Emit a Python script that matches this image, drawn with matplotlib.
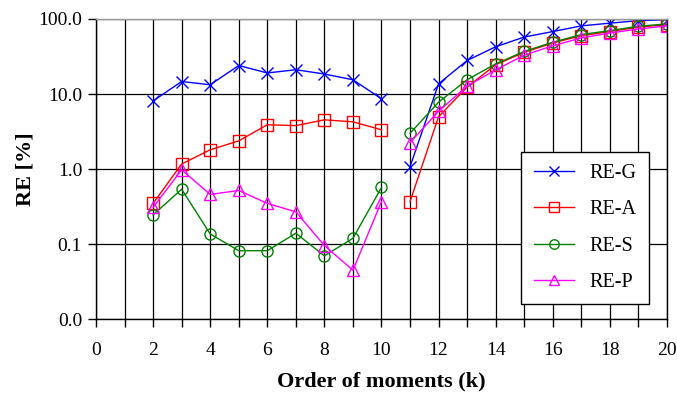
import matplotlib
matplotlib.use("Agg")
import matplotlib.pyplot as plt
from matplotlib.ticker import FixedLocator, FuncFormatter, NullLocator

plt.rcParams["font.family"] = ["Liberation Serif", "DejaVu Serif"]

k = list(range(2, 21))
re_g = [8.1, 14.7, 13.3, 24.0, 19.1, 21.1, 18.5, 15.5, 8.65,
        1.08, 13.7, 28.0, 42.7, 57.5, 68.0, 81.0, 88.0, 95.0, 97.7]
re_a = [0.35, 1.17, 1.81, 2.38, 3.9, 3.8, 4.54, 4.27, 3.34,
        0.37, 5.0, 12.4, 24.6, 36.0, 47.9, 60.0, 68.0, 78.0, 84.0]
re_s = [0.246, 0.54, 0.137, 0.082, 0.082, 0.14, 0.07, 0.12, 0.57,
        3.0, 7.8, 15.5, 25.3, 37.0, 49.0, 62.0, 70.0, 80.0, 86.0]
re_p = [0.31, 0.98, 0.46, 0.52, 0.35, 0.27, 0.096, 0.045, 0.37,
        2.26, 5.9, 12.8, 21.0, 33.0, 44.0, 56.0, 65.0, 73.5, 81.0]

series = [
    ("RE-G", re_g, "#0000FF", "x"),
    ("RE-A", re_a, "#FF0000", "s"),
    ("RE-S", re_s, "#008000", "o"),
    ("RE-P", re_p, "#FF00FF", "^"),
]

fig = plt.figure(figsize=(6.77, 3.94), dpi=100)
ax = fig.add_axes([0.1418, 0.1896, 0.8434, 0.7622])

# gap between k=10 and k=11: draw each series as two pieces
split = k.index(11)
for name, vals, color, marker in series:
    style = dict(color=color, marker=marker, markersize=8, lw=1,
                 markerfacecolor="none", markeredgecolor=color, markeredgewidth=1)
    ax.plot(k[:split], vals[:split], label=name, **style)
    ax.plot(k[split:], vals[split:], **style)

ax.set_yscale("log")
ax.set_ylim(0.01, 100)
ax.set_xlim(0, 20)
ax.yaxis.set_major_locator(FixedLocator([0.01, 0.1, 1, 10, 100]))
ax.yaxis.set_minor_locator(NullLocator())
ax.yaxis.set_major_formatter(FuncFormatter(lambda v, p: f"{v:.1f}"))
ax.set_xticks(range(0, 21))
ax.set_xticklabels([str(i) if i % 2 == 0 else "" for i in range(0, 21)])

ax.grid(True, color="black", lw=0.9)
ax.set_axisbelow(True)
ax.tick_params(direction="out", length=6, width=1, labelsize=14, pad=4)
ax.tick_params(axis="x", pad=10)
for s in ax.spines.values():
    s.set_linewidth(1)
ax.spines["top"].set_color("0.6")

ax.set_xlabel("Order of moments (k)", fontsize=16, fontweight="bold", labelpad=9)
ax.set_ylabel("RE [%]", fontsize=16, fontweight="bold", labelpad=2)

leg = ax.legend(loc="lower right", bbox_to_anchor=(0.9685, 0.051), fontsize=14.5,
                frameon=True, fancybox=False, edgecolor="black", framealpha=1,
                handlelength=2.0, labelspacing=0.85, borderpad=0.6,
                handletextpad=0.8, markerscale=0.85, borderaxespad=0)
leg.get_frame().set_linewidth(1)

fig.savefig("out.png", dpi=100)
